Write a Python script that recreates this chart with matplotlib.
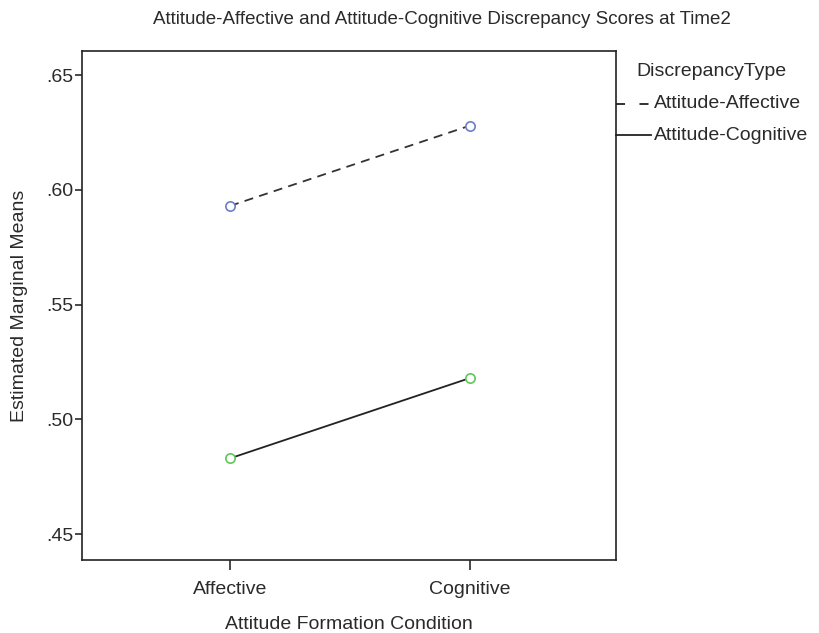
import matplotlib
matplotlib.use("Agg")
import matplotlib.pyplot as plt
from matplotlib.ticker import FuncFormatter

plt.rcParams['font.family'] = ['Liberation Sans', 'DejaVu Sans']

# data
conditions = ['Affective', 'Cognitive']
att_affective = [0.593, 0.628]
att_cognitive = [0.483, 0.518]
y_ticks = [0.45, 0.50, 0.55, 0.60, 0.65]

fig = plt.figure(figsize=(8.2, 6.33), dpi=100)
ax = fig.add_axes([0.1, 0.1153, 0.6512, 0.8041])

x = list(range(len(conditions)))
ax.plot(x, att_affective, color='#333333', lw=1.3, linestyle=(0, (5, 3.5)), zorder=2)
ax.plot(x, att_cognitive, color='#222222', lw=1.3, zorder=2)
ax.scatter(x, att_affective, s=45, facecolors='white', edgecolors='#6a7fc8', linewidths=1.2, zorder=3)
ax.scatter(x, att_cognitive, s=45, facecolors='white', edgecolors='#5cc85c', linewidths=1.2, zorder=3)

ax.set_xlim(-0.6167, 1.6083)
ax.set_ylim(0.4387, 0.6605)
ax.set_xticks(x)
ax.set_xticklabels(conditions)
ax.set_yticks(y_ticks)
ax.yaxis.set_major_formatter(FuncFormatter(lambda v, p: ('%.2f' % v).lstrip('0')))
ax.tick_params(axis='y', direction='out', length=5, width=1.2, labelsize=14, colors='#2a2a2a', pad=1)
ax.tick_params(axis='x', direction='out', length=7, width=1.2, labelsize=14, colors='#2a2a2a', pad=8)

for s in ax.spines.values():
    s.set_linewidth(1.2)
    s.set_color('#222222')

ax.set_xlabel('Attitude Formation Condition', fontsize=14, color='#2a2a2a', labelpad=13)
ax.set_ylabel('Estimated Marginal Means', fontsize=14, color='#2a2a2a', labelpad=13)
fig.text(153 / 820, 1 - 19 / 633, 'Attitude-Affective and Attitude-Cognitive Discrepancy Scores at Time2',
         fontsize=13.5, color='#2a2a2a', va='center', ha='left')

# legend drawn at the right of the plot
fig.text(636 / 820, 1 - 72 / 633, 'DiscrepancyType', fontsize=14, color='#2a2a2a', va='center')
leg_y = [1 - 104 / 633, 1 - 135 / 633]
leg_names = ['Attitude-Affective', 'Attitude-Cognitive']
leg_styles = [(0, (5, 8)), '-']
for yy, name, ls in zip(leg_y, leg_names, leg_styles):
    fig.add_artist(plt.Line2D([616 / 820, 651 / 820], [yy, yy], color='#222222', lw=1.3, linestyle=ls))
    fig.text(654 / 820, yy, name, fontsize=14, color='#2a2a2a', va='center')

fig.savefig('out.png', dpi=100)
